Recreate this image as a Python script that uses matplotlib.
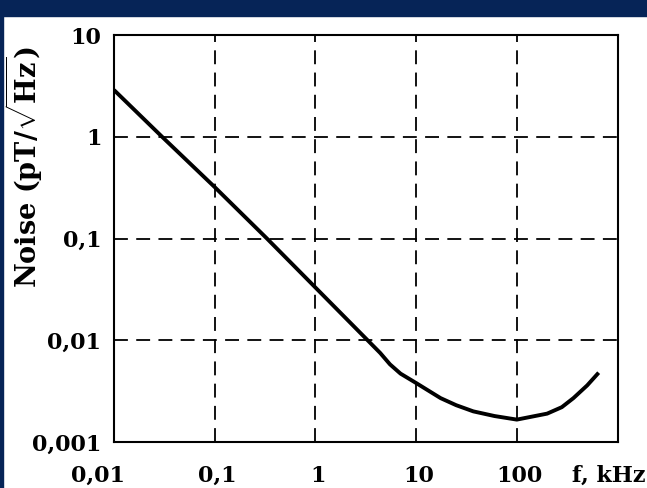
import matplotlib
matplotlib.use("Agg")
import matplotlib.pyplot as plt
import matplotlib.transforms as mtransforms
from matplotlib.patches import Rectangle

# noise spectrum (f in kHz, noise in pT/sqrt(Hz))
freq_khz = [0.01, 0.03, 0.1, 0.33, 1, 3.3, 4.4, 5.5, 7, 10, 17.5, 25, 37, 60,
            100, 200, 280, 365, 500, 650]
noise = [2.88, 1.0, 0.32, 0.1, 0.033, 0.01, 0.0075, 0.0058, 0.0047, 0.0038,
         0.0027, 0.0023, 0.002, 0.0018, 0.00166, 0.0019, 0.0022, 0.0027,
         0.0036, 0.0048]

x_ticks = [0.01, 0.1, 1, 10, 100, 1000]
x_labels = ["0,01", "0,1", "1", "10", "100", "f, kHz"]
y_ticks = [0.001, 0.01, 0.1, 1, 10]
y_labels = ["0,001", "0,01", "0,1", "1", "10"]

plt.rcParams["lines.scale_dashes"] = False
plt.rcParams["mathtext.fontset"] = "custom"
plt.rcParams["mathtext.rm"] = "DejaVu Serif:bold"
font = dict(family="DejaVu Serif", weight="bold", size=16)

fig = plt.figure(figsize=(6.47, 4.88), dpi=100)
fig.patch.set_facecolor("white")
navy = "#062457"
fig.add_artist(Rectangle((0, 1 - 16 / 488), 1, 16 / 488, transform=fig.transFigure,
                         color=navy, zorder=0))
fig.add_artist(Rectangle((0, 0), 3 / 647, 1, transform=fig.transFigure,
                         color=navy, zorder=0))

ax = fig.add_axes([114 / 647, 1 - 442 / 488, 503.5 / 647, 407 / 488])
ax.plot(freq_khz, noise, color="black", lw=2.8, solid_capstyle="butt",
        solid_joinstyle="round")
ax.set_xscale("log")
ax.set_yscale("log")
ax.set_xlim(0.01, 1000)
ax.set_ylim(0.001, 10)

ax.set_yticks(y_ticks)
ax.set_yticklabels(y_labels, fontdict=font)
ax.set_xticks(x_ticks)
ax.set_xticklabels([])
ax.minorticks_off()
ax.tick_params(length=0, pad=9)
ax.grid(True, color="black", linestyle=(0, (10, 6)), linewidth=1.3)
for s in ax.spines.values():
    s.set_linewidth(1.5)

# x labels sit well below the frame, first and last nudged
offsets = {0: -16}
for i, (xv, lab) in enumerate(zip(x_ticks, x_labels)):
    dx = offsets.get(i, 3)
    tr = ax.get_xaxis_transform() + mtransforms.ScaledTranslation(dx / 100, 0, fig.dpi_scale_trans)
    ha = "center"
    if i == 5:
        tr = mtransforms.blended_transform_factory(fig.transFigure, ax.transAxes)
        xv = 646 / 647
        ha = "right"
    ax.text(xv, -0.057, lab, transform=tr, ha=ha, va="top", fontdict=font, clip_on=False)

ax.set_ylabel(r"Noise (pT/$\sqrt{\mathrm{Hz}}$)", fontdict=dict(font, size=19.5))
ax.yaxis.set_label_coords(-0.137, 0.676)

fig.savefig("out.png", dpi=100)
